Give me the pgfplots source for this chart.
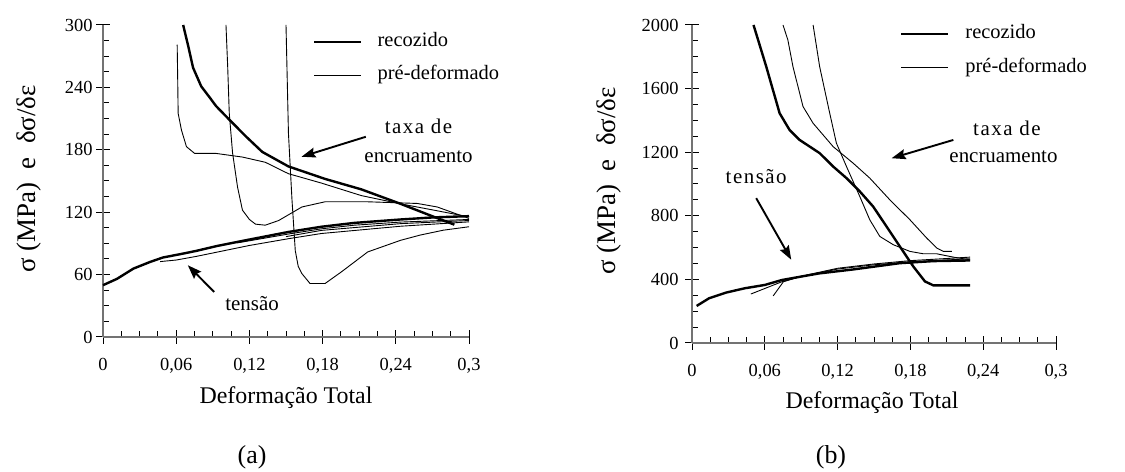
\documentclass[border=0pt]{standalone}
\usepackage{fontspec}
\setmainfont{Liberation Serif}
\usepackage{pgfplots}
\pgfplotsset{compat=1.18}
\usetikzlibrary{arrows.meta}

\newcommand{\ls}{\hspace{1.5bp}}
\tikzset{
  note/.style={font=\fontsize{21}{24}\selectfont, align=center},
  pointer/.style={black, line width=1.9bp, -{Stealth[length=14bp,width=10bp,inset=2bp]}},
}
\pgfplotsset{
  panel/.style={
    scale only axis,
    anchor=south west,
    xmin=0, xmax=0.3, ymin=0,
    axis x line=bottom, axis y line=left,
    axis line style={-, draw=black!55, line width=1.6bp},
    xtick={0,0.06,0.12,0.18,0.24,0.3},
    xticklabels={0,{0,06},{0,12},{0,18},{0,24},{0,3}},
    minor x tick num=3, minor y tick num=3,
    tick align=inside,
    major tick length=14bp, minor tick length=6bp,
    every major x tick/.append style={yshift=-7bp},
    every major y tick/.append style={xshift=-7bp},
    every tick/.style={black, line width=1bp},
    tick label style={font=\fontsize{18.5}{21}\selectfont},
    xticklabel style={anchor=base, yshift=-34bp},
    clip=false,
    legend cell align=left,
    legend image code/.code={\draw[##1] (0bp,0bp) -- (47bp,0bp);},
  },
  thick curve/.style={black, line width=2.4bp, line join=round, no markers},
  thin curve/.style={black, line width=0.9bp, line join=round, no markers},
}

\begin{document}
\begin{tikzpicture}[x=1bp,y=1bp]
\path[use as bounding box] (0,0) rectangle (1125,472);

% ---------------- (a) ----------------
\begin{axis}[panel,
  at={(103bp,135bp)}, width=366bp, height=312bp,
  ymax=300,
  ytick={0,60,120,180,240,300},
  yticklabels={0,60,120,180,240,300},
  yticklabel style={anchor=east, xshift=-7bp},
  legend style={draw=none, fill=none, at={(axis cs:0.1722,267.5)}, anchor=west,
    inner sep=0pt, row sep=14bp, font=\fontsize{20.5}{24}\selectfont,
    nodes={inner sep=0pt, text height=14bp, text depth=5bp},
    /tikz/every odd column/.append style={column sep=15bp}},
]
% strain-hardening rate, annealed
\addplot[thick curve] coordinates {
 (0.0657,300) (0.0700,279) (0.0738,259) (0.0805,241) (0.0870,231) (0.0927,222)
 (0.1035,209) (0.117,193) (0.1305,178) (0.152,164) (0.182,152) (0.2116,142)
 (0.244,128) (0.268,117) (0.288,108)};
\addlegendentry{recozido}
% strain-hardening rate, pre-strained samples
\addplot[thin curve] coordinates {
 (0.0608,281) (0.0612,250) (0.0616,215) (0.0643,199) (0.0684,183) (0.0751,176.5)
 (0.0927,176.5) (0.1143,173) (0.133,168) (0.152,157) (0.179,148) (0.2116,136)
 (0.244,128) (0.271,122) (0.3,115.5)};
\addlegendentry{pré-deformado}
\addplot[thin curve, forget plot] coordinates {
 (0.1008,300) (0.1022,260) (0.1035,215) (0.1062,177) (0.1103,144) (0.1143,122)
 (0.120,113) (0.125,108.5) (0.133,107.5) (0.144,112) (0.163,125) (0.182,130)
 (0.217,130) (0.2576,128.4) (0.274,125) (0.3,114)};
\addplot[thin curve, forget plot] coordinates {
 (0.150,300) (0.152,196) (0.1549,132) (0.1576,83) (0.160,68) (0.163,61)
 (0.1697,51.4) (0.182,51.4) (0.1954,62.6) (0.217,81.8) (0.244,93) (0.26,98)
 (0.279,102.7) (0.3,106)};
% flow stress
\addplot[thick curve, forget plot] coordinates {
 (0,49.8) (0.0116,56) (0.025,65.8) (0.0387,72.2) (0.049,76.4) (0.0657,80.2)
 (0.0765,82.8) (0.0927,87.3) (0.12,93.7) (0.152,101) (0.179,106) (0.206,109.7)
 (0.244,113) (0.271,115) (0.3,116.2)};
\addplot[thin curve, forget plot] coordinates {
 (0.0468,72.5) (0.06,74) (0.0765,77.5) (0.12,88) (0.152,94.5) (0.179,99.5)
 (0.244,106.5) (0.3,110.7)};
\addplot[thin curve, forget plot] coordinates {
 (0.11,90.5) (0.12,92.5) (0.152,99) (0.179,104) (0.206,107.5) (0.244,110.5) (0.3,113)};
\addplot[thin curve, forget plot] coordinates {
 (0.15,96.5) (0.179,102.5) (0.244,109) (0.3,112)};

\node[note] at (axis cs:0.2586,202.2) {t\ls a\ls x\ls a\ \ls d\ls e};
\node[note] at (axis cs:0.2586,173.3) {encruamento};
\draw[pointer] (axis cs:0.2154,192.5) -- (axis cs:0.1627,173.3);
\node[note] at (axis cs:0.1222,32.1) {tensão};
\draw[pointer] (axis cs:0.0911,43.3) -- (axis cs:0.0695,69);
\end{axis}

% ---------------- (b) ----------------
\begin{axis}[panel,
  at={(692bp,129bp)}, width=364bp, height=318bp,
  ymax=2000,
  ytick={0,400,800,1200,1600,2000},
  yticklabels={0,400,800,1200,1600,2000},
  yticklabel style={anchor=east, xshift=-10bp},
  legend style={draw=none, fill=none, at={(axis cs:0.1713,1837.5)}, anchor=west,
    inner sep=0pt, row sep=15bp, font=\fontsize{20.5}{24}\selectfont,
    nodes={inner sep=0pt, text height=14bp, text depth=5bp},
    /tikz/every odd column/.append style={column sep=16bp}},
]
\addplot[thick curve] coordinates {
 (0.0507,2000) (0.0612,1738) (0.0722,1445) (0.0804,1340) (0.0887,1277) (0.1052,1194)
 (0.1163,1110) (0.1273,1037) (0.1383,953) (0.1493,858) (0.1603,733) (0.1713,607)
 (0.1824,481) (0.192,387) (0.199,362) (0.2292,362)};
\addlegendentry{recozido}
\addplot[thin curve] coordinates {
 (0.075,2000) (0.079,1906) (0.0832,1738) (0.0915,1487) (0.0998,1382) (0.1163,1235)
 (0.1328,1131) (0.1465,1037) (0.1631,900) (0.1796,775) (0.1934,660) (0.2017,597)
 (0.2072,576) (0.2141,576)};
\addlegendentry{pré-deformado}
\addplot[thin curve, forget plot] coordinates {
 (0.0998,2000) (0.1052,1738) (0.1135,1445) (0.119,1257) (0.1273,1110) (0.1383,921)
 (0.1465,775) (0.1548,670) (0.1659,618) (0.1796,576) (0.1907,561) (0.2017,561)
 (0.2154,540) (0.2292,523)};
\addplot[thick curve, forget plot] coordinates {
 (0.0038,233) (0.014,281) (0.0281,317) (0.0434,344) (0.06,365) (0.074,396)
 (0.0894,417) (0.1047,437.5) (0.1328,462.5) (0.1713,502) (0.199,515) (0.2292,519)};
\addplot[thin curve, forget plot] coordinates {
 (0.0485,308) (0.074,385) (0.09,418) (0.12,465) (0.15,492) (0.18,510) (0.2292,530)};
\addplot[thin curve, forget plot] coordinates {
 (0.0669,296) (0.0753,385) (0.09,420) (0.12,470) (0.15,497) (0.18,518) (0.2292,540)};

\node[note] at (axis cs:0.2595,1351) {t\ls a\ls x\ls a\ \ls d\ls e};
\node[note] at (axis cs:0.2567,1173) {encruamento};
\draw[pointer] (axis cs:0.2154,1277) -- (axis cs:0.1645,1162);
\node[note] at (axis cs:0.0529,1047) {t\ls e\ls n\ls s\ls ã\ls o};
\draw[pointer] (axis cs:0.0529,911) -- (axis cs:0.0818,523.5);
\end{axis}

% axis titles and panel captions
\node[rotate=90, font=\fontsize{27}{31}\selectfont] at (29,293) {σ (MPa)\ \ e\ \ δσ/δε};
\node[rotate=90, font=\fontsize{27}{31}\selectfont] at (609,291) {σ (MPa)\ \ e\ \ δσ/δε};
\node[font=\fontsize{24}{28}\selectfont] at (286,74) {Deformação Total};
\node[font=\fontsize{24}{28}\selectfont] at (872,69) {Deformação Total};
\node[font=\fontsize{26}{30}\selectfont] at (252,15) {(a)};
\node[font=\fontsize{26}{30}\selectfont] at (831,15) {(b)};
\end{tikzpicture}
\end{document}
